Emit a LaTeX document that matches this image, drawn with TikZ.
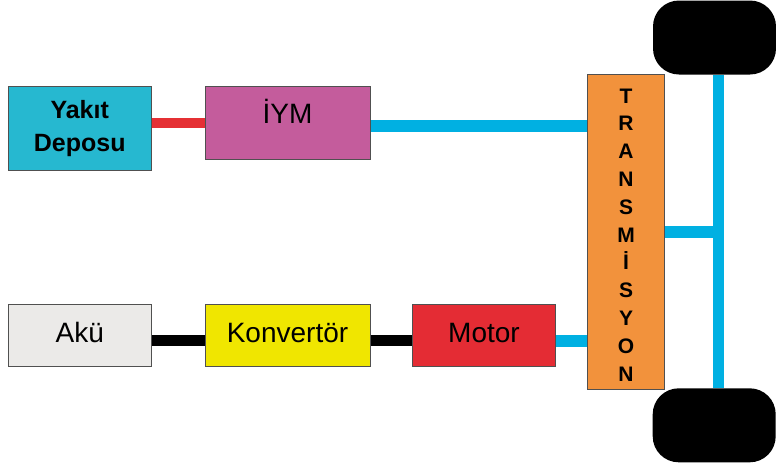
\documentclass[tikz,border=0pt]{standalone}
\usepackage{fontspec}
\setmainfont{Liberation Sans}
\usetikzlibrary{backgrounds}

\definecolor{tankcyan}{RGB}{38,184,208}
\definecolor{icepink}{RGB}{196,92,156}
\definecolor{battgray}{RGB}{235,234,232}
\definecolor{convyellow}{RGB}{240,230,0}
\definecolor{motorred}{RGB}{228,44,52}
\definecolor{gearorange}{RGB}{242,146,60}
\definecolor{shaftblue}{RGB}{0,176,226}
\definecolor{fuelred}{RGB}{229,48,52}
\definecolor{edgegray}{RGB}{80,80,80}

\tikzset{
  unit/.style={draw=edgegray, line width=0.9pt, inner sep=0pt, rectangle},
  lbl/.style={font=\fontsize{28}{30}\selectfont},
  lowrow/.style={unit, lbl, minimum height=62pt, text height=38.5pt, text depth=23.5pt},
  fuelline/.style={draw=fuelred, line width=10pt},
  shaftline/.style={draw=shaftblue, line width=12pt},
  wireline/.style={draw=black, line width=11pt},
  wheel/.style={fill=black, rounded corners=26pt, inner sep=0pt,
                minimum width=123pt, minimum height=74pt},
}

\begin{document}
\begin{tikzpicture}[x=1pt, y=-1pt]
\useasboundingbox (0,0) rectangle (776,469);

% upper row: fuel tank and combustion engine
\node[unit, fill=tankcyan, minimum width=142.7pt, minimum height=84pt,
      align=center, font=\bfseries\fontsize{25}{33}\selectfont]
  (tank) at (79.7,128.5) {Yakıt\\Deposu};
\node[unit, lbl, fill=icepink, minimum width=165pt, minimum height=73pt,
      text height=37.5pt, text depth=35.5pt]
  (ice) at (287.5,122.5) {İYM};

% lower row: battery, converter, motor
\node[lowrow, fill=battgray, minimum width=142.7pt] (batt) at (79.7,335) {Akü};
\node[lowrow, fill=convyellow, minimum width=165pt] (conv) at (287.5,335) {Konvertör};
\node[lowrow, fill=motorred, minimum width=143.4pt] (motor) at (484,335) {Motor};

% gearbox with its vertical lettering
\node[unit, fill=gearorange, minimum width=76.6pt, minimum height=315.3pt]
  (gear) at (626,231.7) {};
\node[inner sep=0pt, anchor=north, align=center,
      font=\bfseries\fontsize{21}{27.8}\selectfont]
  (geartext) at (626,88.5) {T\\R\\A\\N\\S\\M\\İ\\S\\Y\\O\\N};

% wheels
\node[wheel] (wheeltop) at (714.5,37.5) {};
\node[wheel] (wheelbot) at (714.2,425.3) {};
\coordinate (hub) at (718.7,231.7);

% connections
\begin{scope}[on background layer]
  \draw[fuelline] (tank.east |- 0,123) -- (ice.west |- 0,123);
  \draw[shaftline] (ice.east |- 0,125.7) -- (gear.west |- 0,125.7);
  \draw[wireline] (batt.east |- 0,340.5) -- (conv.west |- 0,340.5);
  \draw[wireline] (conv.east |- 0,340.5) -- (motor.west |- 0,340.5);
  \draw[shaftline] (motor.east |- 0,341) -- (gear.west |- 0,341);
  \draw[shaftline] (gear.east |- hub) -- (hub);
  \draw[draw=shaftblue, line width=11pt] (hub |- wheeltop.south) -- (hub |- wheelbot.north);
\end{scope}
\end{tikzpicture}
\end{document}
